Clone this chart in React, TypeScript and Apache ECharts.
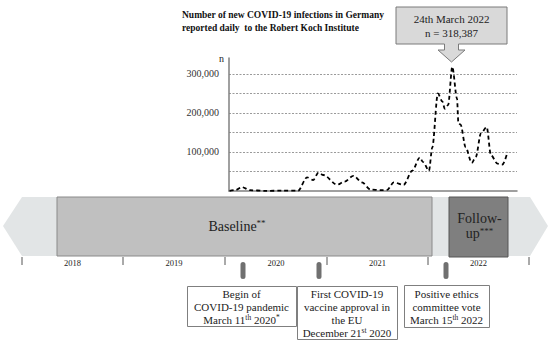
import React, { useEffect, useRef } from 'react';
import * as echarts from 'echarts';

// ---------- data ----------
const infectionDates = [
  '2020-01-12', '2020-02-04', '2020-02-25', '2020-03-26', '2020-05-19', '2020-07-20', '2020-09-15',
  '2020-10-17', '2020-11-08', '2020-11-27', '2020-12-15', '2021-02-02', '2021-03-01', '2021-04-02',
  '2021-05-03', '2021-06-02', '2021-07-10', '2021-08-02', '2021-08-25', '2021-09-30', '2021-10-31',
  '2021-11-27', '2021-12-09', '2021-12-30', '2022-01-11', '2022-01-31', '2022-02-16', '2022-02-25',
  '2022-03-09', '2022-03-24', '2022-04-10', '2022-04-15', '2022-04-23', '2022-05-11', '2022-06-02',
  '2022-06-17', '2022-07-05', '2022-07-26', '2022-08-10', '2022-09-03', '2022-09-21', '2022-10-09',
];
const infectionCounts = [
  500, 3000, 10000, 2000, 500, 800, 1000,
  35000, 28000, 47000, 41000, 16000, 24000, 39000,
  22000, 4000, 2000, 3000, 22000, 16000, 52000,
  86000, 74000, 52000, 112000, 250000, 230000, 211000,
  220000, 318387, 237000, 174000, 170000, 112000, 72000,
  88000, 148000, 164000, 92000, 70000, 68000, 100000,
];
const yLabelValues = [100000, 200000, 300000];
const xRange = ['2020-01-10', '2022-11-12'];

const titleLines = [
  'Number of new COVID-19 infections in Germany',
  'reported daily  to the Robert Koch Institute',
];
const peakLabel = '24th March 2022\nn = 318,387';
const timelineYears = ['2018', '2019', '2020', '2021', '2022'];
const phaseLabels = ['Baseline{sup|**}', 'Follow-\nup{sup|***}'];
const eventTexts = [
  'Begin of\nCOVID-19 pandemic\nMarch 11{sup|th} 2020{sup|*}',
  'First COVID-19\nvaccine approval in\nthe EU\nDecember 21{sup|st} 2020',
  'Positive ethics\ncommittee vote\nMarch 15{sup|th} 2022',
];

// ---------- layout ----------
const FONT = 'Liberation Serif, serif';
const yearTicksX = [22, 123, 225, 327, 428, 529];
const phaseBoxes = [
  { x: 57, y: 197, w: 375, h: 59, fill: '#c0c0c0', stroke: '#8a8a8a', tx: 237, ty: 226, lh: 15 },
  { x: 449, y: 197, w: 59, h: 60, fill: '#7f7f7f', stroke: '#565656', tx: 479.5, ty: 226, lh: 15 },
];
const markersX = [243, 319, 446];
const eventBoxes = [
  { x: 187, y: 286, w: 109, h: 40 },
  { x: 297, y: 286, w: 100, h: 53 },
  { x: 404, y: 285, w: 85, h: 42 },
];

function txt(size: number, weight = 'normal') {
  return { fontFamily: FONT, fontSize: size, fontWeight: weight, fill: '#222' };
}

function buildGraphics() {
  const g: any[] = [];
  titleLines.forEach((t, i) => {
    g.push({
      type: 'text', x: 182, y: 15 + i * 13,
      style: { text: t, ...txt(9.5, 'bold'), fill: '#111', align: 'left', verticalAlign: 'middle' },
    });
  });
  g.push({
    type: 'polygon',
    shape: {
      points: [[396, 7], [507, 7], [507, 44], [458.5, 44], [458.5, 50], [465, 50], [451.5, 62], [438, 50], [444.5, 50], [444.5, 44], [396, 44]],
    },
    style: { fill: '#d9d9d9', stroke: '#7a7a7a', lineWidth: 1 },
  });
  g.push({
    type: 'text', x: 451.5, y: 26,
    style: { text: peakLabel, ...txt(11), align: 'center', verticalAlign: 'middle', lineHeight: 14 },
  });
  g.push({
    type: 'polygon',
    shape: { points: [[3, 226], [22, 197], [530, 197], [548, 226], [530, 256], [22, 256]] },
    style: { fill: '#e2e5e6' },
  });
  phaseBoxes.forEach((b, i) => {
    g.push({ type: 'rect', shape: { x: b.x, y: b.y, width: b.w, height: b.h }, style: { fill: b.fill, stroke: b.stroke, lineWidth: 1 } });
    g.push({
      type: 'text', x: b.tx, y: b.ty,
      style: {
        text: phaseLabels[i], ...txt(14), align: 'center', verticalAlign: 'middle', lineHeight: b.lh,
        rich: { sup: { ...txt(9), verticalAlign: 'top', lineHeight: 13 } },
      },
    });
  });
  yearTicksX.forEach((x) => {
    g.push({ type: 'line', shape: { x1: x, y1: 257, x2: x, y2: 265 }, style: { stroke: '#555', lineWidth: 1 } });
  });
  timelineYears.forEach((yr, i) => {
    g.push({
      type: 'text', x: (yearTicksX[i] + yearTicksX[i + 1]) / 2, y: 263,
      style: { text: yr, ...txt(8.5), align: 'center', verticalAlign: 'middle' },
    });
  });
  markersX.forEach((x) => {
    g.push({ type: 'rect', shape: { x: x - 2.5, y: 262, width: 5, height: 17, r: 2.5 }, style: { fill: '#707070' } });
  });
  eventBoxes.forEach((b, i) => {
    g.push({ type: 'rect', shape: { x: b.x + 0.5, y: b.y + 0.5, width: b.w, height: b.h }, style: { fill: '#fff', stroke: '#7f7f7f', lineWidth: 1 } });
    g.push({
      type: 'text', x: b.x + b.w / 2, y: b.y + b.h / 2 + 0.5,
      style: {
        text: eventTexts[i], ...txt(11), align: 'center', verticalAlign: 'middle', lineHeight: 13,
        rich: { sup: { ...txt(7.5), verticalAlign: 'top', lineHeight: 11 } },
      },
    });
  });
  return g;
}

export default function App() {
  const ref = useRef<HTMLDivElement>(null);
  useEffect(() => {
    if (!ref.current) return;
    const chart = echarts.init(ref.current, null, { renderer: 'svg' });
    chart.setOption({
      animation: false,
      backgroundColor: '#ffffff',
      textStyle: { fontFamily: FONT },
      grid: { left: 229, right: 33, top: 58, bottom: 151 },
      xAxis: {
        type: 'time',
        min: xRange[0],
        max: xRange[1],
        axisLine: { show: true, lineStyle: { color: '#808080', width: 1.5 } },
        axisTick: { show: false },
        axisLabel: { show: false },
        splitLine: { show: false },
      },
      yAxis: {
        type: 'value',
        min: 0,
        max: 341000,
        interval: 50000,
        name: 'n',
        nameLocation: 'end',
        nameGap: 0,
        nameTextStyle: { fontFamily: FONT, fontSize: 10, color: '#222', align: 'right', verticalAlign: 'middle', padding: [0, 5, 0, 0] },
        axisLine: { show: true, lineStyle: { color: '#808080', width: 1.5 } },
        axisTick: { show: false },
        axisLabel: {
          fontFamily: FONT, fontSize: 10, color: '#333', margin: 10,
          showMaxLabel: false,
          formatter: (v: number) => (yLabelValues.includes(v) ? v.toLocaleString('en-US') : ''),
        },
        splitLine: {
          show: true, showMinLine: false, showMaxLine: false,
          lineStyle: { color: '#9a9a9a', width: 1, type: [2, 1.5] },
        },
      },
      graphic: buildGraphics(),
      series: [
        {
          type: 'line',
          data: infectionDates.map((d, i) => [d, infectionCounts[i]]),
          showSymbol: false,
          smooth: 0.3,
          smoothMonotone: 'x',
          lineStyle: { color: '#000', width: 1.8, type: [4, 3] },
        },
      ],
    });
    return () => chart.dispose();
  }, []);
  return <div ref={ref} style={{ position: 'fixed', left: 0, top: 0, width: 550, height: 342 }} />;
}
